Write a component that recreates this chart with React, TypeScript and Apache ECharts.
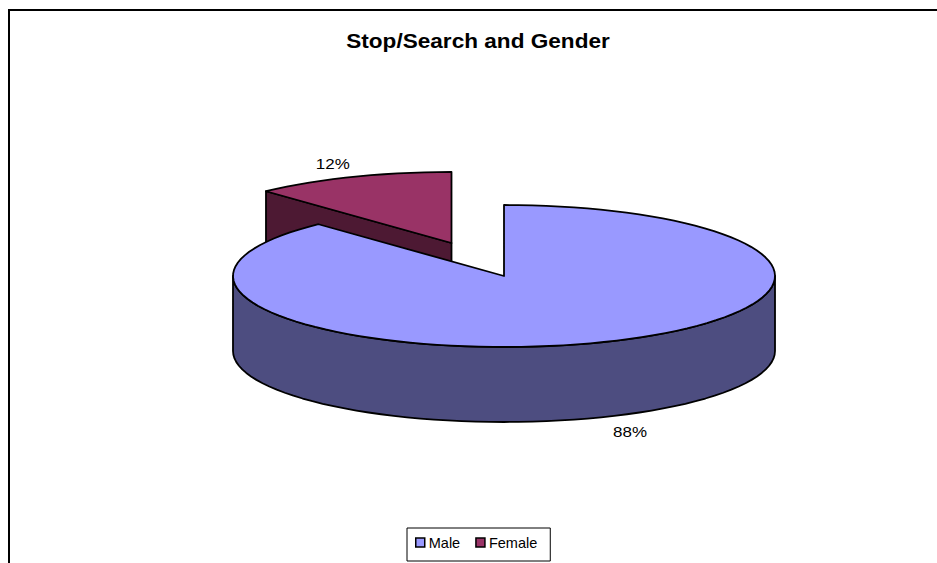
import React, { useEffect, useRef } from "react";
import * as echarts from "echarts";

const categories = ["Male", "Female"];
const values = [88, 12];
const labels = ["88%", "12%"];
const chartTitle = "Stop/Search and Gender";
const topColors = ["#9999FF", "#993366"];
const sideColors = ["#4D4D80", "#4D1933"];

const RX = 271;
const RY = 71;
const DEPTH = 75;
const CENTER: [number, number] = [504, 276];
const EXPLODE: [number, number] = [-52.5, -33];
const FONT = "'Liberation Sans', Arial, sans-serif";
const STRETCH = 1.13;

const pt = (cx: number, cy: number, deg: number): [number, number] => {
  const a = (deg * Math.PI) / 180;
  return [cx + RX * Math.sin(a), cy - RY * Math.cos(a)];
};
const arc = (cx: number, cy: number, from: number, to: number) => {
  const out: [number, number][] = [];
  const n = Math.max(2, Math.ceil(Math.abs(to - from) / 3));
  for (let i = 0; i <= n; i++) out.push(pt(cx, cy, from + ((to - from) * i) / n));
  return out;
};
const stroke = { stroke: "#000", lineWidth: 1.8, lineJoin: "round" as const };

const total = values.reduce((a, b) => a + b, 0);
const maleSweep = (values[0] / total) * 360;

const labelText = (text: string, x: number, y: number) => ({
  type: "text",
  x,
  y,
  scaleX: STRETCH,
  style: { text, font: `15px ${FONT}`, fill: "#000", align: "center", verticalAlign: "middle" },
});

const renderMale = () => {
  const [cx, cy] = CENTER;
  const wallTop = arc(cx, cy, 90, 270);
  const wallBottom = arc(cx, cy + DEPTH, 270, 90);
  const top = [[cx, cy] as [number, number], ...arc(cx, cy, 0, maleSweep)];
  const mid = pt(cx, cy + DEPTH, 170);
  return {
    type: "group",
    children: [
      { type: "polygon", shape: { points: [...wallTop, ...wallBottom] }, style: { fill: sideColors[0], ...stroke } },
      { type: "polygon", shape: { points: top }, style: { fill: topColors[0], ...stroke } },
      labelText(labels[0], mid[0] + 79, mid[1] + 11),
    ],
  };
};

const renderFemale = () => {
  const cx = CENTER[0] + EXPLODE[0];
  const cy = CENTER[1] + EXPLODE[1];
  const start = maleSweep;
  const edge = pt(cx, cy, start);
  const labelAt = pt(cx, cy, start + 20);
  const top = [[cx, cy] as [number, number], ...arc(cx, cy, start, 360)];
  return {
    type: "group",
    children: [
      {
        type: "polygon",
        shape: { points: [[cx, cy], edge, [edge[0], edge[1] + DEPTH], [cx, cy + DEPTH]] },
        style: { fill: sideColors[1], ...stroke },
      },
      { type: "polygon", shape: { points: top }, style: { fill: topColors[1], ...stroke } },
      labelText(labels[1], labelAt[0] - 12, labelAt[1] - 14),
    ],
  };
};

export default function App() {
  const ref = useRef<HTMLDivElement>(null);
  useEffect(() => {
    const chart = echarts.init(ref.current!, undefined, { renderer: "svg" });
    chart.setOption({
      animation: false,
      backgroundColor: "#fff",
      graphic: [
        {
          type: "polyline",
          z: -1,
          shape: { points: [[9, 563], [9, 10], [937, 10]] },
          style: { stroke: "#000", lineWidth: 2, fill: "none" },
        },
        {
          type: "text",
          x: 478,
          y: 41,
          scaleX: STRETCH,
          style: {
            text: chartTitle,
            font: `bold 20px ${FONT}`,
            fill: "#000",
            align: "center",
            verticalAlign: "middle",
          },
        },
      ],
      legend: {
        data: categories,
        left: 407,
        top: 528,
        orient: "horizontal",
        icon: "rect",
        itemWidth: 9,
        itemHeight: 9,
        itemGap: 15,
        padding: [7, 13, 11, 8],
        borderColor: "#000",
        borderWidth: 1,
        backgroundColor: "#fff",
        selectedMode: false,
        textStyle: { fontFamily: FONT, fontSize: 14.5, color: "#000", padding: [0, 0, 0, -1] },
        itemStyle: { borderColor: "#000", borderWidth: 1.5 },
      },
      series: [
        {
          type: "custom",
          name: categories[1],
          coordinateSystem: "none",
          itemStyle: { color: topColors[1] },
          data: [values[1]],
          renderItem: renderFemale,
          silent: true,
        },
        {
          type: "custom",
          name: categories[0],
          coordinateSystem: "none",
          itemStyle: { color: topColors[0] },
          data: [values[0]],
          renderItem: renderMale,
          silent: true,
        },
      ],
    });
    return () => chart.dispose();
  }, []);
  return <div ref={ref} style={{ position: "fixed", left: 0, top: 0, width: 937, height: 563 }} />;
}
